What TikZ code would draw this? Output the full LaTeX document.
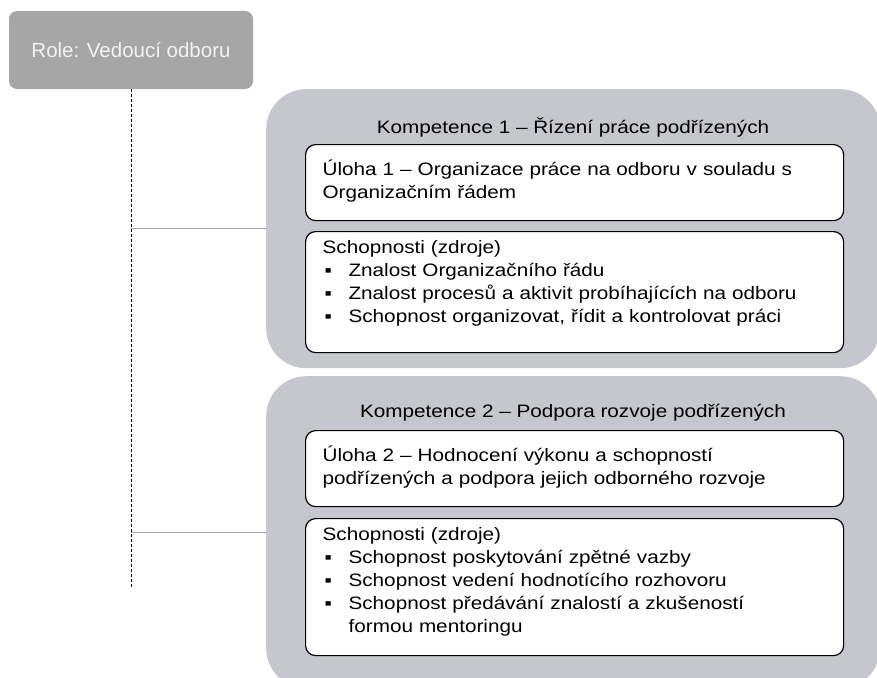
\documentclass[tikz,border=0pt]{standalone}
\usepackage{fontspec}
\setmainfont{Liberation Sans}
\newfontfamily\widesans{Liberation Sans}[FakeStretch=1.15]
\usetikzlibrary{positioning}
\usepackage{xcolor}

\definecolor{rolegray}{RGB}{166,166,166}
\definecolor{panelgray}{RGB}{197,198,206}
\definecolor{linkgray}{RGB}{165,165,172}

\newcommand{\boxfont}{\widesans\fontsize{18}{23}\selectfont}
\newcommand{\itm}{\makebox[26pt][l]{\hspace{2pt}▪}}

\begin{document}
\begin{tikzpicture}[x=1pt, y=-1pt,
  rnode/.style={rectangle, rounded corners=8pt, fill=rolegray, text=white!95!black,
                minimum width=244pt, minimum height=78pt,
                font=\fontsize{20.5}{24}\selectfont},
  pnode/.style={rectangle, rounded corners=40pt, fill=panelgray,
                minimum width=614pt, anchor=north west},
  tnode/.style={anchor=base, font=\boxfont},
  unode/.style={rectangle, rounded corners=10pt, draw=black, line width=1.2pt,
                fill=white, text width=504pt, align=left, inner xsep=17pt,
                inner ysep=0pt, text height=31pt, text depth=45pt,
                font=\boxfont, anchor=north west},
  snode/.style={unode, text height=22pt},
  vline/.style={draw=black, line width=0.6pt, dash pattern=on 3pt off 2pt},
  hline/.style={draw=linkgray, line width=1.2pt}
]
\useasboundingbox (0,0) rectangle (877,677);
\clip (0,0) rectangle (877,677);

\node[rnode] (role) at (131,50) {Role: Vedoucí odboru};

\node[pnode, minimum height=279pt] (komp1) at (266,89) {};
\node[pnode, minimum height=312pt] (komp2) at (266,376) {};

% kompetence 1
\node[tnode] (title1) at (573,133) {Kompetence 1 – Řízení práce podřízených};
\node[unode] (task1) at (305,144)
  {Úloha 1 – Organizace práce na odboru v souladu s\\Organizačním řádem};
\node[snode, text depth=99pt] (res1) at (305,231) {Schopnosti (zdroje)\\
  \itm Znalost Organizačního řádu\\
  \itm Znalost procesů a aktivit probíhajících na odboru\\
  \itm Schopnost organizovat, řídit a kontrolovat práci};

% kompetence 2
\node[tnode] (title2) at (573,417) {Kompetence 2 – Podpora rozvoje podřízených};
\node[unode] (task2) at (305,430)
  {Úloha 2 – Hodnocení výkonu a schopností\\podřízených a podpora jejich odborného rozvoje};
\node[snode, text depth=115pt] (res2) at (305,518) {Schopnosti (zdroje)\\
  \itm Schopnost poskytování zpětné vazby\\
  \itm Schopnost vedení hodnotícího rozhovoru\\
  \itm Schopnost předávání znalostí a zkušeností\\
  \hspace*{26pt}formou mentoringu};

\coordinate (tail) at (role.south |- 0,588);
\draw[vline] (role.south) -- (tail);
\draw[hline] (komp1.west -| role.south) -- (komp1.west);
\draw[hline] (komp2.west -| role.south) -- (komp2.west);
\end{tikzpicture}
\end{document}
